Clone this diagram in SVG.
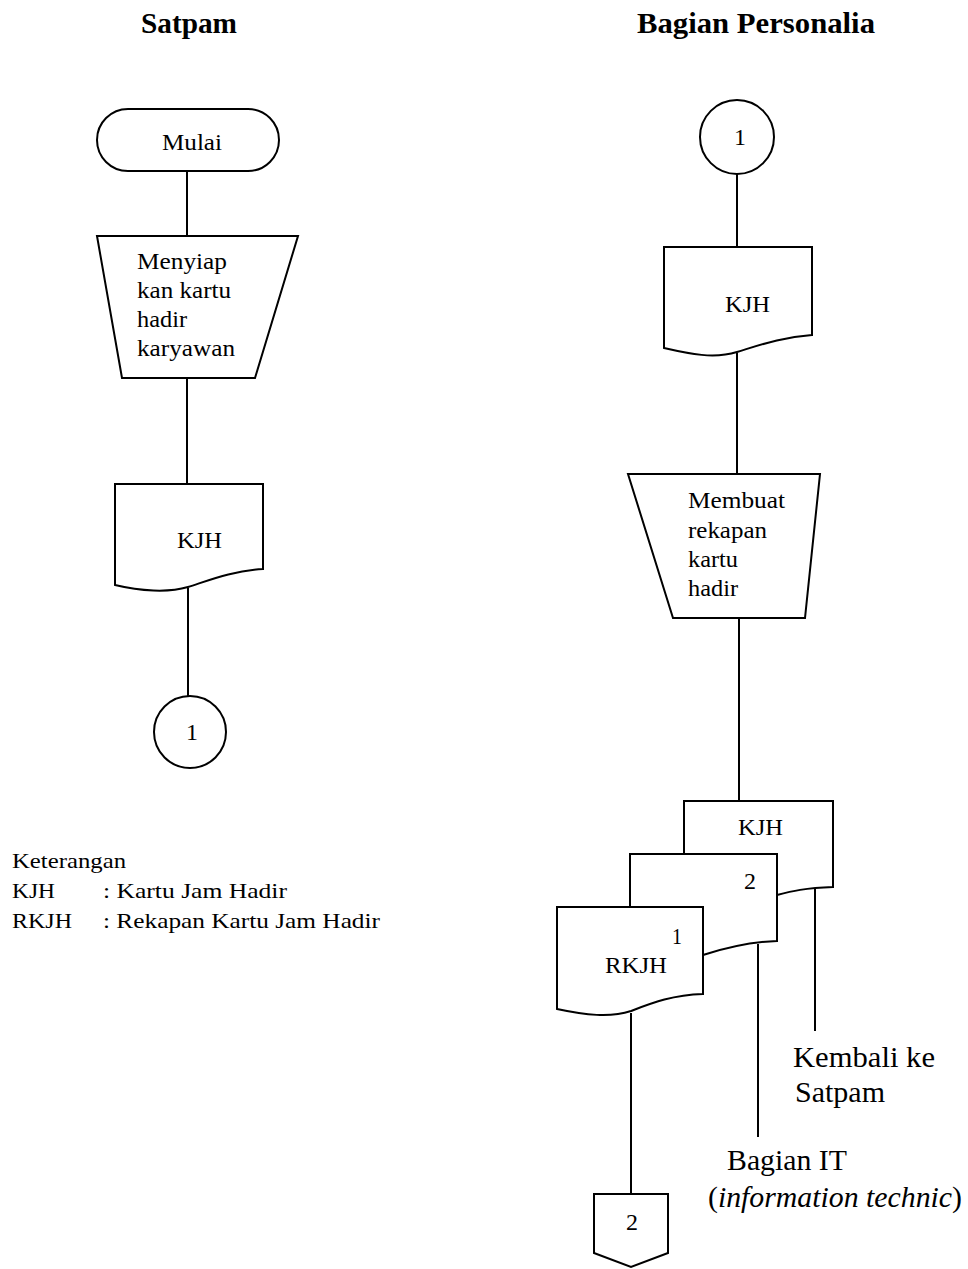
<svg xmlns="http://www.w3.org/2000/svg" width="968" height="1269" viewBox="0 0 968 1269">
  <style>
    .shape { fill: #fff; stroke: #000; stroke-width: 2; stroke-linejoin: miter; }
    .line { fill: none; stroke: #000; stroke-width: 2; }
    .t { font-family: "Liberation Serif", "Times New Roman", serif; font-size: 24px; fill: #000; }
    .title { font-family: "Liberation Serif", "Times New Roman", serif; font-size: 29px; font-weight: bold; fill: #000; }
    .big { font-family: "Liberation Serif", "Times New Roman", serif; font-size: 29px; fill: #000; }
    .leg { font-family: "Liberation Serif", "Times New Roman", serif; font-size: 22px; fill: #000; }
  </style>
  <rect width="968" height="1269" fill="#fff"/>

  <!-- lane titles -->
  <text class="title" x="141" y="33" textLength="96" lengthAdjust="spacingAndGlyphs">Satpam</text>
  <text class="title" x="637" y="33" textLength="238" lengthAdjust="spacingAndGlyphs">Bagian Personalia</text>

  <!-- connectors -->
  <g id="connectors">
    <line class="line" x1="187" y1="171" x2="187" y2="236"/>
    <line class="line" x1="187" y1="378" x2="187" y2="484"/>
    <line class="line" x1="188" y1="588" x2="188" y2="696"/>
    <line class="line" x1="737" y1="174" x2="737" y2="247"/>
    <line class="line" x1="737" y1="353" x2="737" y2="474"/>
    <line class="line" x1="739" y1="618" x2="739" y2="801"/>
    <line class="line" x1="815" y1="888" x2="815" y2="1031"/>
    <line class="line" x1="758" y1="944" x2="758" y2="1137"/>
    <line class="line" x1="631" y1="1013" x2="631" y2="1194"/>
  </g>

  <!-- Satpam lane -->
  <g id="mulai">
    <rect class="shape" x="97" y="109" width="182" height="62" rx="31" ry="31"/>
    <text class="t" x="162" y="150" textLength="60" lengthAdjust="spacingAndGlyphs">Mulai</text>
  </g>

  <g id="menyiapkan">
    <polygon class="shape" points="97,236 298,236 255,378 122,378"/>
    <text class="t" x="137" y="269" textLength="90" lengthAdjust="spacingAndGlyphs">Menyiap</text>
    <text class="t" x="137" y="298" textLength="94" lengthAdjust="spacingAndGlyphs">kan kartu</text>
    <text class="t" x="137" y="327" textLength="50" lengthAdjust="spacingAndGlyphs">hadir</text>
    <text class="t" x="137" y="356" textLength="98" lengthAdjust="spacingAndGlyphs">karyawan</text>
  </g>

  <g id="kjh-satpam">
    <path class="shape" d="M115,484 H263 V569 C232,571 210,580 188,587 C168,593 140,591 115,585 Z"/>
    <text class="t" x="177" y="548" textLength="45" lengthAdjust="spacingAndGlyphs">KJH</text>
  </g>

  <g id="konektor-1-out">
    <circle class="shape" cx="190" cy="732" r="36"/>
    <text class="t" x="192" y="740" text-anchor="middle">1</text>
  </g>

  <!-- legend -->
  <g id="keterangan">
    <text class="leg" x="12" y="868" textLength="114" lengthAdjust="spacingAndGlyphs">Keterangan</text>
    <text class="leg" x="12" y="898" textLength="43" lengthAdjust="spacingAndGlyphs">KJH</text>
    <text class="leg" x="103" y="898" textLength="184" lengthAdjust="spacingAndGlyphs">: Kartu Jam Hadir</text>
    <text class="leg" x="12" y="928" textLength="60" lengthAdjust="spacingAndGlyphs">RKJH</text>
    <text class="leg" x="103" y="928" textLength="277" lengthAdjust="spacingAndGlyphs">: Rekapan Kartu Jam Hadir</text>
  </g>

  <!-- Bagian Personalia lane -->
  <g id="konektor-1-in">
    <circle class="shape" cx="737" cy="137" r="37"/>
    <text class="t" x="740" y="145" text-anchor="middle">1</text>
  </g>

  <g id="kjh-personalia">
    <path class="shape" d="M664,247 H812 V335 C782,337 760,345 737,352 C714,359 690,354 664,348 Z"/>
    <text class="t" x="725" y="312" textLength="45" lengthAdjust="spacingAndGlyphs">KJH</text>
  </g>

  <g id="membuat-rekapan">
    <polygon class="shape" points="628,474 820,474 805,618 673,618"/>
    <text class="t" x="688" y="508" textLength="97" lengthAdjust="spacingAndGlyphs">Membuat</text>
    <text class="t" x="688" y="538" textLength="79" lengthAdjust="spacingAndGlyphs">rekapan</text>
    <text class="t" x="688" y="567" textLength="50" lengthAdjust="spacingAndGlyphs">kartu</text>
    <text class="t" x="688" y="596" textLength="50" lengthAdjust="spacingAndGlyphs">hadir</text>
  </g>

  <g id="dokumen-rangkap">
    <path class="shape" d="M684,801 H833 V887 C805,888 792,891 777,895 C760,900 740,905 715,905 C700,905 690,903 684,902 Z"/>
    <text class="t" x="738" y="835" textLength="45" lengthAdjust="spacingAndGlyphs">KJH</text>
    <path class="shape" d="M630,854 H777 V941 C748,942 725,948 703,955 C685,960 660,960 630,955 Z"/>
    <text class="t" x="744" y="889" textLength="12" lengthAdjust="spacingAndGlyphs">2</text>
    <path class="shape" d="M557,907 H703 V994 C672,995 652,1003 631,1011 C610,1018 585,1015 557,1009 Z"/>
    <text class="t" x="672" y="944" textLength="10" lengthAdjust="spacingAndGlyphs">1</text>
    <text class="t" x="605" y="973" textLength="62" lengthAdjust="spacingAndGlyphs">RKJH</text>
  </g>

  <g id="tujuan-satpam">
    <text class="big" x="793" y="1067" textLength="142" lengthAdjust="spacingAndGlyphs">Kembali ke</text>
    <text class="big" x="795" y="1102" textLength="90" lengthAdjust="spacingAndGlyphs">Satpam</text>
  </g>

  <g id="tujuan-it">
    <text class="big" x="727" y="1170" textLength="120" lengthAdjust="spacingAndGlyphs">Bagian IT</text>
    <text class="big" x="708" y="1207" textLength="254" lengthAdjust="spacingAndGlyphs">(<tspan font-style="italic">information technic</tspan>)</text>
  </g>

  <g id="konektor-2">
    <path class="shape" d="M594,1194 H668 V1253 L631,1267 L594,1253 Z"/>
    <text class="t" x="632" y="1230" text-anchor="middle">2</text>
  </g>
</svg>
